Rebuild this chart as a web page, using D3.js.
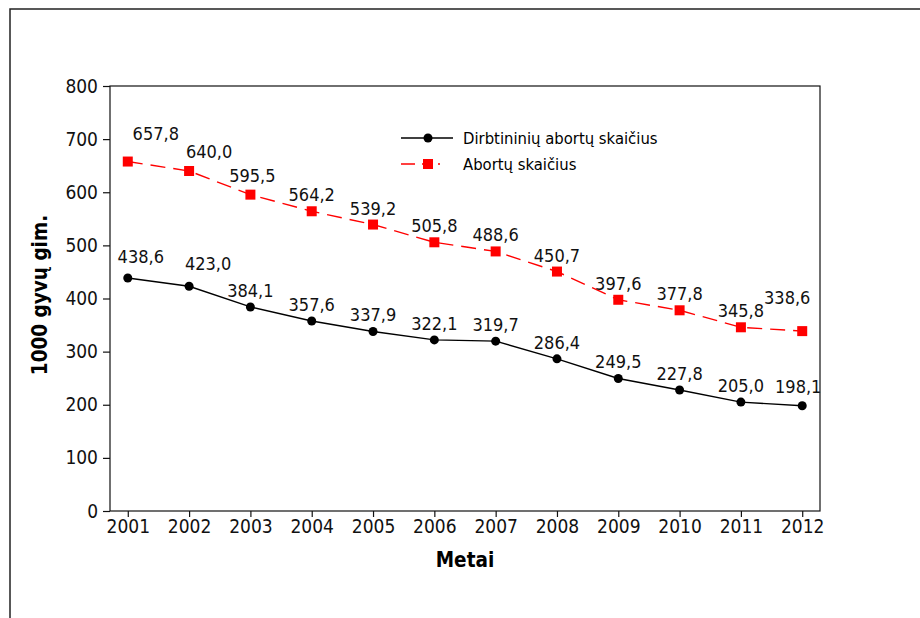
<!DOCTYPE html>
<html>
<head>
<meta charset="utf-8">
<script src="https://cdn.jsdelivr.net/npm/d3@7"></script>
<style>
  body { margin: 0; background: #fff; }
  text { font-family: "DejaVu Sans Condensed", "DejaVu Sans", sans-serif; }
</style>
</head>
<body>
<div id="chart"></div>
<script>
// ===== data =====
var years = ["2001","2002","2003","2004","2005","2006","2007","2008","2009","2010","2011","2012"]
var dirbtiniai = [438.6, 423.0, 384.1, 357.6, 337.9, 322.1, 319.7, 286.4, 249.5, 227.8, 205.0, 198.1]
var abortai = [657.8, 640.0, 595.5, 564.2, 539.2, 505.8, 488.6, 450.7, 397.6, 377.8, 345.8, 338.6]
var yTicks = [0, 100, 200, 300, 400, 500, 600, 700, 800]
var seriesNames = ["Dirbtininių abortų skaičius", "Abortų skaičius"]

// label nudges where the labels would collide (pixels)
var blackNudge = [[13,-5],[19,-6],[0,0],[0,0],[0,0],[0,0],[0,0],[0,0],[0,0],[0,0],[0,0],[-4,-3]]
var redNudge = [[28,-12],[20,-3],[2,-3],[0,0],[0,0],[0,0],[0,0],[0,0],[0,0],[0,0],[0,0],[-15,-17]]

var W = 920, H = 618
var mLeft = 110, mRight = 820, mTop = 86, mBottom = 511

var svg = d3.select("#chart")
    .append("svg")
    .attr("width", W)
    .attr("height", H)

// outer frame
svg.append("path")
    .attr("d", "M10," + H + " L10,9 L" + W + ",9")
    .attr("fill", "none")
    .attr("stroke", "#222")
    .attr("stroke-width", 1.5)

var x = d3.scalePoint()
    .domain(years)
    .range([mLeft, mRight])
    .padding(0.29)

var y = d3.scaleLinear()
    .domain([0, 800])
    .range([mBottom, mTop])

function fmt(v){
    return v.toFixed(1).replace(".", ",")
}

// plot box
svg.append("rect")
    .attr("x", mLeft)
    .attr("y", mTop)
    .attr("width", mRight - mLeft)
    .attr("height", mBottom - mTop)
    .attr("fill", "none")
    .attr("stroke", "#111")
    .attr("stroke-width", 1.2)

var yAxis = svg.append("g")
    .attr("transform", "translate(" + mLeft + ",0)")
    .call(d3.axisLeft(y).tickValues(yTicks).tickSize(7).tickPadding(5).tickFormat(d3.format("d")))
yAxis.select(".domain").remove()

var xAxis = svg.append("g")
    .attr("transform", "translate(0," + mBottom + ")")
    .call(d3.axisBottom(x).tickSize(6).tickPadding(3))
xAxis.select(".domain").remove()

svg.selectAll(".tick line").attr("stroke", "#111").attr("stroke-width", 1.2)
svg.selectAll(".tick text")
    .attr("font-family", "DejaVu Sans Condensed, DejaVu Sans, sans-serif")
    .attr("font-size", "19px")
    .attr("fill", "#111")

// axis titles
svg.append("text")
    .text("Metai")
    .attr("x", 465)
    .attr("y", 567)
    .attr("text-anchor", "middle")
    .attr("font-size", "20.5px")
    .attr("font-weight", "bold")

svg.append("text")
    .text("1000 gyvų gim.")
    .attr("transform", "translate(47,295) rotate(-90)")
    .attr("text-anchor", "middle")
    .attr("font-size", "20.5px")
    .attr("font-weight", "bold")

var line = d3.line()
    .x(function(d, i){ return x(years[i]) })
    .y(function(d){ return y(d) })

// red series (all abortions)
svg.append("path")
    .datum(abortai)
    .attr("d", line)
    .attr("fill", "none")
    .attr("stroke", "#ff0000")
    .attr("stroke-width", 1.4)
    .attr("stroke-dasharray", "15,8")

svg.selectAll(".sq")
    .data(abortai)
    .enter()
    .append("rect")
    .attr("class", "sq")
    .attr("x", function(d, i){ return x(years[i]) - 5 })
    .attr("y", function(d){ return y(d) - 5 })
    .attr("width", 10)
    .attr("height", 10)
    .attr("fill", "#ff0000")

// black series (induced abortions)
svg.append("path")
    .datum(dirbtiniai)
    .attr("d", line)
    .attr("fill", "none")
    .attr("stroke", "#000")
    .attr("stroke-width", 1.4)

svg.selectAll(".dot")
    .data(dirbtiniai)
    .enter()
    .append("circle")
    .attr("class", "dot")
    .attr("cx", function(d, i){ return x(years[i]) })
    .attr("cy", function(d){ return y(d) })
    .attr("r", 4.5)
    .attr("fill", "#000")

// value labels
function labels(data, nudge, cls){
    svg.selectAll("." + cls)
        .data(data)
        .enter()
        .append("text")
        .attr("class", cls)
        .text(fmt)
        .attr("x", function(d, i){ return x(years[i]) + nudge[i][0] })
        .attr("y", function(d, i){ return y(d) - 10 + nudge[i][1] })
        .attr("text-anchor", "middle")
        .attr("font-size", "18px")
        .attr("fill", "#111")
}
labels(dirbtiniai, blackNudge, "lb")
labels(abortai, redNudge, "lr")

// legend
var lg = svg.append("g").attr("transform", "translate(401,138)")
lg.append("line").attr("x1", 0).attr("x2", 52).attr("y1", 0).attr("y2", 0)
    .attr("stroke", "#000").attr("stroke-width", 1.4)
lg.append("circle").attr("cx", 27).attr("cy", 0).attr("r", 4.5).attr("fill", "#000")
lg.append("text").text(seriesNames[0]).attr("x", 62).attr("y", 6).attr("font-size", "16.5px")

lg.append("line").attr("x1", 0).attr("x2", 52).attr("y1", 26).attr("y2", 26)
    .attr("stroke", "#ff0000").attr("stroke-width", 1.4).attr("stroke-dasharray", "14,7,9,7,2,20")
lg.append("rect").attr("x", 22).attr("y", 21).attr("width", 10).attr("height", 10).attr("fill", "#ff0000")
lg.append("text").text(seriesNames[1]).attr("x", 62).attr("y", 32).attr("font-size", "16.5px")
</script>
</body>
</html>
